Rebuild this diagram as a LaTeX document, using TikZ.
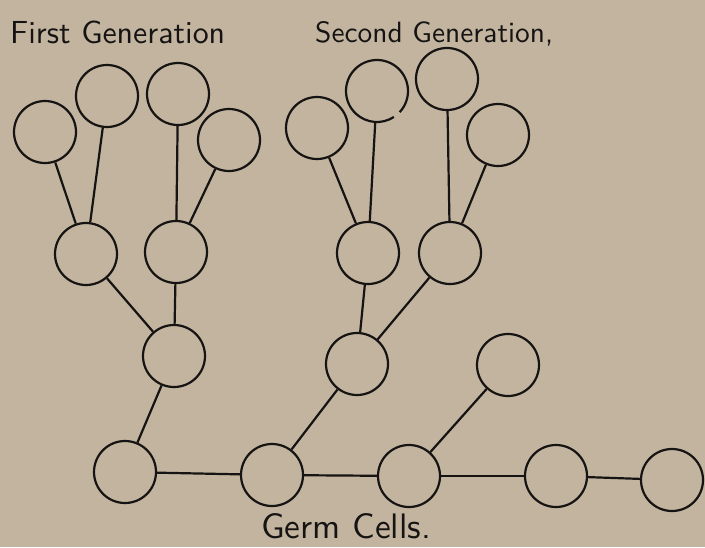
\documentclass[tikz,border=0pt]{standalone}
\usepackage{graphicx}
\definecolor{paper}{RGB}{195,180,160}
\definecolor{ink}{RGB}{22,20,18}
\tikzset{
  cell/.style={circle,draw=ink,line width=2.2pt,minimum size=62pt,inner sep=0pt},
  link/.style={draw=ink,line width=2.2pt},
  label/.style={text=ink,inner sep=0pt,anchor=base west,font=\sffamily}
}
\begin{document}
\begin{tikzpicture}[x=1pt,y=1pt]
\fill[paper] (0,0) rectangle (705,-547);
\useasboundingbox (0,0) rectangle (705,-547);
% first generation
\node[cell] (A1) at (45,-132) {};
\node[cell] (A2) at (107,-96) {};
\node[cell] (A3) at (178,-94) {};
\node[cell] (A4) at (229,-140) {};
\node[cell] (B1) at (86,-254) {};
\node[cell] (B2) at (176,-252) {};
\node[cell] (C) at (174,-356) {};
% second generation
\node[cell] (D1) at (317,-128) {};
\node[cell,draw=none] (D2) at (377,-91) {};
\draw[ink,line width=2.2pt] ([shift={(-43:31pt)}]D2.center) arc[start angle=-43,end angle=303,radius=31pt];
\node[cell] (D3) at (447,-79) {};
\node[cell] (D4) at (498,-135) {};
\node[cell] (E1) at (368,-253) {};
\node[cell] (E2) at (450,-253) {};
\node[cell] (F) at (357,-364) {};
\node[cell] (H) at (508,-365) {};
% germ cells
\node[cell] (G1) at (125,-472) {};
\node[cell] (G2) at (272,-475) {};
\node[cell] (G3) at (409,-476) {};
\node[cell] (G4) at (556,-476) {};
\node[cell] (G5) at (672,-480) {};
% connectors
\draw[link] (A1) -- (B1);
\draw[link] (A2) -- (B1);
\draw[link] (A3) -- (B2);
\draw[link] (A4) -- (B2);
\draw[link] (B1) -- (C);
\draw[link] (B2) -- (C);
\draw[link] (C) -- (G1);
\draw[link] (D1) -- (E1);
\draw[link] (D2) -- (E1);
\draw[link] (D3) -- (E2);
\draw[link] (D4) -- (E2);
\draw[link] (E1) -- (F);
\draw[link] (E2) -- (F);
\draw[link] (F) -- (G2);
\draw[link] (H) -- (G3);
\draw[link] (G1) -- (G2);
\draw[link] (G2) -- (G3);
\draw[link] (G3) -- (G4);
\draw[link] (G4) -- (G5);
% labels
\node[label] (t1) at (10,-43) {\resizebox{215pt}{!}{First Generation}};
\node[label] (t2) at (315,-42) {\resizebox{238pt}{!}{Second Generation,}};
\node[label] (t3) at (261,-538) {\resizebox{170pt}{!}{Germ Cells.}};
\end{tikzpicture}
\end{document}
